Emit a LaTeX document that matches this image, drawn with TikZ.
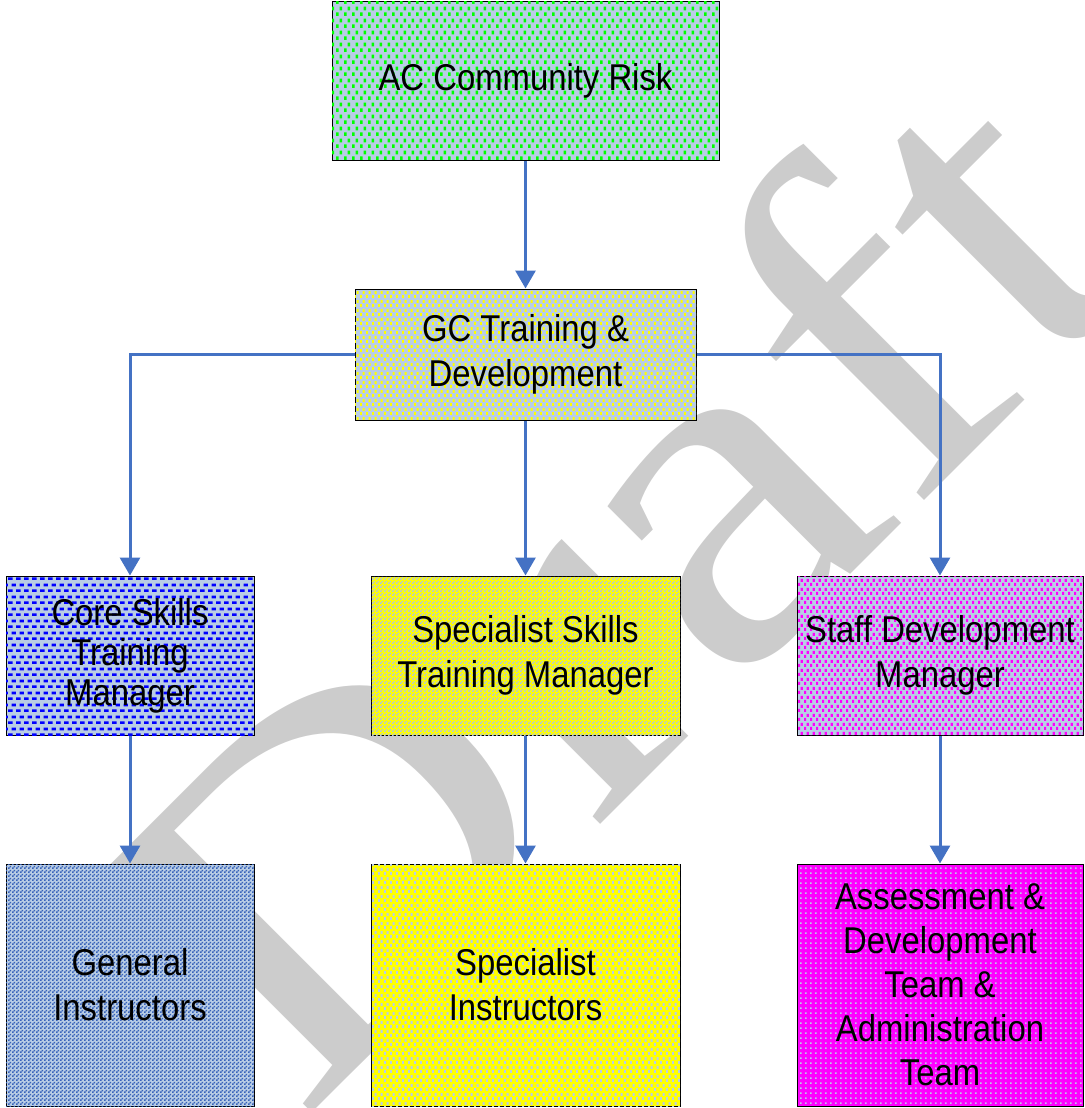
\documentclass[tikz,border=0pt]{standalone}
\usepackage{fontspec}
\usetikzlibrary{arrows.meta,patterns}
\newfontfamily\boxfont[FakeStretch=0.88]{Liberation Sans}
\newfontfamily\wmfont{Liberation Serif}
\definecolor{bluegrey}{RGB}{185,205,229}
\definecolor{connblue}{RGB}{68,114,196}
\definecolor{chkblue}{RGB}{55,98,185}
\definecolor{wmgrey}{RGB}{204,204,204}
\definecolor{mag}{RGB}{255,0,255}
\definecolor{yel}{RGB}{255,255,0}
\definecolor{grn}{RGB}{0,255,0}
\definecolor{blu}{RGB}{0,0,255}
% staggered square dots, 8x12 px tile
\pgfdeclarepatternformonly{stagdots}{\pgfpointorigin}{\pgfqpoint{6pt}{9pt}}{\pgfqpoint{6pt}{9pt}}{%
  \pgfpathrectangle{\pgfqpoint{0pt}{0pt}}{\pgfqpoint{2.25pt}{3pt}}%
  \pgfpathrectangle{\pgfqpoint{3pt}{4.5pt}}{\pgfqpoint{2.25pt}{3pt}}%
  \pgfusepath{fill}}
% smaller staggered dots
\pgfdeclarepatternformonly{smalldots}{\pgfpointorigin}{\pgfqpoint{4.5pt}{6.75pt}}{\pgfqpoint{4.5pt}{6.75pt}}{%
  \pgfpathrectangle{\pgfqpoint{0pt}{0pt}}{\pgfqpoint{1.7pt}{2.3pt}}%
  \pgfpathrectangle{\pgfqpoint{2.25pt}{3.375pt}}{\pgfqpoint{1.7pt}{2.3pt}}%
  \pgfusepath{fill}}
% bigger staggered dots (magenta)
\pgfdeclarepatternformonly{middots}{\pgfpointorigin}{\pgfqpoint{4.5pt}{6.75pt}}{\pgfqpoint{4.5pt}{6.75pt}}{%
  \pgfpathrectangle{\pgfqpoint{0pt}{0pt}}{\pgfqpoint{1.9pt}{2.6pt}}%
  \pgfpathrectangle{\pgfqpoint{2.25pt}{3.375pt}}{\pgfqpoint{1.9pt}{2.6pt}}%
  \pgfusepath{fill}}
% staggered dashes
\pgfdeclarepatternformonly{stagdash}{\pgfpointorigin}{\pgfqpoint{6pt}{9pt}}{\pgfqpoint{6pt}{9pt}}{%
  \pgfpathrectangle{\pgfqpoint{0pt}{0pt}}{\pgfqpoint{3.9pt}{2.2pt}}%
  \pgfpathrectangle{\pgfqpoint{3pt}{4.5pt}}{\pgfqpoint{3.9pt}{2.2pt}}%
  \pgfusepath{fill}}
% checkerboard 2px
\pgfdeclarepatternformonly{chk}{\pgfpointorigin}{\pgfqpoint{3pt}{3pt}}{\pgfqpoint{3pt}{3pt}}{%
  \pgfpathrectangle{\pgfqpoint{0pt}{0pt}}{\pgfqpoint{1.5pt}{1.5pt}}%
  \pgfpathrectangle{\pgfqpoint{1.5pt}{1.5pt}}{\pgfqpoint{1.5pt}{1.5pt}}%
  \pgfusepath{fill}}
% grid dots
\pgfdeclarepatternformonly{griddots}{\pgfpointorigin}{\pgfqpoint{3.75pt}{3.75pt}}{\pgfqpoint{3.75pt}{3.75pt}}{%
  \pgfpathrectangle{\pgfqpoint{0pt}{0pt}}{\pgfqpoint{1.5pt}{1.5pt}}%
  \pgfusepath{fill}}
\tikzset{
  x=0.75pt, y=-0.75pt,
  box/.style={draw=black, line width=0.75pt, align=center, inner sep=0pt,
    font=\boxfont\fontsize{28}{33.75}\selectfont, text=black},
  conn/.style={draw=connblue, line width=2.25pt,
    -{Triangle[length=13.5pt,width=15pt]}},
  wmark/.style={text=wmgrey, inner sep=0pt, font=\wmfont\fontsize{364}{364}\selectfont}
}
\begin{document}
\begin{tikzpicture}
\useasboundingbox (0,0) rectangle (1085,1108);
% watermark
\node[wmark, rotate=45, xscale=1.18, anchor=base west] (wm) at (300,1125) {Draft};
% boxes
\node[box, minimum width=290.25pt, minimum height=119.25pt,
  fill=bluegrey, postaction={pattern=stagdots, pattern color=grn}]
  (ac) at (525.5,80.5) {AC Community Risk};
\node[box, minimum width=255.75pt, minimum height=98.25pt,
  fill=bluegrey, postaction={pattern=smalldots, pattern color=yel}]
  (gc) at (525.5,354.5) {GC Training \&\\Development};
\node[box, minimum width=186pt, minimum height=119.25pt,
  fill=bluegrey, postaction={pattern=stagdash, pattern color=blu},
  font=\boxfont\fontsize{28}{30}\selectfont]
  (core) at (130,655.5) {Core Skills\\Training\\Manager};
\node[box, minimum width=231.75pt, minimum height=119.25pt,
  fill=yel, postaction={pattern=chk, pattern color=bluegrey!90!gray}]
  (ssm) at (525.5,655.5) {Specialist Skills\\Training Manager};
\node[box, minimum width=214.5pt, minimum height=119.25pt,
  fill=bluegrey, postaction={pattern=middots, pattern color=mag}]
  (staff) at (940,655.5) {Staff Development\\Manager};
\node[box, minimum width=186pt, minimum height=181.5pt,
  fill=bluegrey, postaction={pattern=chk, pattern color=chkblue}]
  (gen) at (130,985) {General\\Instructors};
\node[box, minimum width=231.75pt, minimum height=181.5pt,
  fill=yel, postaction={pattern=smalldots, pattern color=bluegrey}]
  (si) at (525.5,985) {Specialist\\Instructors};
\node[box, minimum width=214.5pt, minimum height=181.5pt,
  fill=mag, postaction={pattern=griddots, pattern color=bluegrey},
  font=\boxfont\fontsize{28}{33}\selectfont]
  (adt) at (940,985) {Assessment \&\\Development\\Team \&\\Administration\\Team};
% connectors
\draw[conn] (ac) -- (gc);
\draw[conn] (gc.west) -| (core.north);
\draw[conn] (gc) -- (ssm);
\draw[conn] (gc.east) -| (staff.north);
\draw[conn] (core) -- (gen);
\draw[conn] (ssm) -- (si);
\draw[conn] (staff) -- (adt);
\end{tikzpicture}
\end{document}
